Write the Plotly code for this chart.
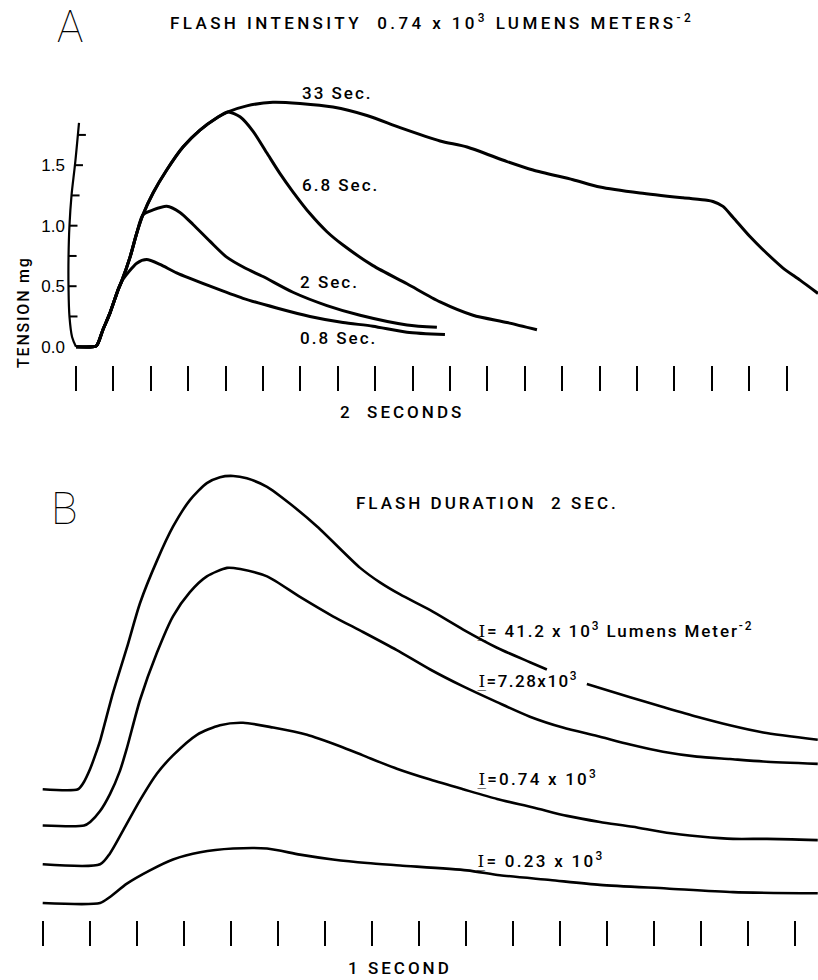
import numpy as np
import plotly.graph_objects as go

W, H = 818, 980

# ---------------- Panel A: flash intensity 0.74 x 10^3 lm m^-2 ----------------
# time in seconds from the start of the record, tension in mg
rise_t  = [0.0, 0.86, 1.11, 1.44, 1.82, 2.25, 2.44, 2.89, 3.25, 3.58,
           4.12, 4.85, 5.72, 6.63, 7.52, 8.13]
rise_mg = [0.0, 0.0, 0.01, 0.14, 0.28, 0.47, 0.54, 0.74, 0.94, 1.09,
           1.27, 1.46, 1.65, 1.79, 1.89, 1.94]

# decays after each flash ends (branch off the common rise)
d08_t  = [3.25, 3.78, 4.49, 5.38, 7.17, 8.93, 10.73, 12.51, 14.28, 15.88, 17.70, 19.73]
d08_mg = [0.69, 0.72, 0.68, 0.61, 0.50, 0.40, 0.32, 0.25, 0.20, 0.17, 0.12, 0.10]

d2_t  = [4.12, 4.85, 5.56, 6.26, 7.17, 8.06, 9.04, 10.00, 11.60, 13.42, 15.19, 17.70, 19.30]
d2_mg = [1.13, 1.16, 1.11, 1.01, 0.87, 0.74, 0.65, 0.58, 0.45, 0.34, 0.26, 0.18, 0.16]

d68_t  = [8.77, 9.47, 10.21, 10.91, 11.60, 12.51, 13.42, 14.28, 15.88, 17.70,
          19.47, 21.23, 23.05, 24.65]
d68_mg = [1.90, 1.78, 1.60, 1.43, 1.28, 1.10, 0.95, 0.84, 0.67, 0.52,
          0.37, 0.26, 0.20, 0.14]

d33_t  = [9.13, 10.53, 11.98, 13.74, 15.56, 17.33, 19.47, 20.91, 23.05, 24.44,
          26.58, 28.02, 30.16, 32.46, 33.74, 34.06, 34.60, 35.13, 36.04, 36.95,
          37.81, 38.72, 39.68]
d33_mg = [1.99, 2.02, 2.01, 1.98, 1.91, 1.81, 1.70, 1.65, 1.53, 1.46,
          1.38, 1.32, 1.27, 1.23, 1.21, 1.20, 1.16, 1.07, 0.91, 0.77,
          0.65, 0.55, 0.44]

durations = ["0.8 Sec.", "2 Sec.", "6.8 Sec.", "33 Sec."]
branch_at = [7, 10, 16, 16]          # number of rise points each curve keeps
decays = [(d08_t, d08_mg), (d2_t, d2_mg), (d68_t, d68_mg), (d33_t, d33_mg)]

# pen-recorder calibration arc (hand drawn, curved)
arc_t  = [0.16, -0.05, -0.24, -0.35, -0.40, -0.40, -0.35, -0.21, 0.0]
arc_mg = [1.85, 1.51, 1.25, 1.00, 0.74, 0.49, 0.25, 0.08, 0.0]
arc_ticks = [0.25, 0.5, 0.75, 1.0, 1.25, 1.5, 1.75]
a_tick_vals = [0, 0.5, 1.0, 1.5]
a_tick_text = ["0.0", "0.5", "1.0", "1.5"]
a_time_ticks = list(range(0, 40, 2))   # one mark every 2 s

# ---------------- Panel B: flash duration 2 s, four intensities ----------------
i41_t  = [0.0, 0.75, 0.86, 1.01, 1.16, 1.22, 1.49, 1.79, 2.07, 2.43, 2.77, 3.13,
          3.49, 3.77, 4.05, 4.34, 4.77, 5.26, 5.84, 6.75, 7.17, 7.60, 8.24, 8.94,
          9.66, 10.36, 10.72, None, 11.57, 12.49, 13.19, 13.91, 14.61, 15.32, 16.48]
i41_mg = [0.0, 0.0, 0.05, 0.17, 0.33, 0.40, 0.79, 1.17, 1.54, 1.89, 2.17, 2.39,
          2.53, 2.58, 2.59, 2.57, 2.50, 2.36, 2.17, 1.83, 1.71, 1.61, 1.48, 1.32,
          1.17, 1.05, 0.99, None, 0.87, 0.76, 0.68, 0.60, 0.53, 0.47, 0.41]

i728_t  = [0.0, 0.88, 1.01, 1.22, 1.43, 1.64, 1.79, 2.07, 2.43, 2.77, 3.13, 3.49,
           3.92, 4.20, 4.77, 5.47, 6.17, 6.81, 7.53, 8.24, 8.94, 9.66, 10.36,
           11.06, 11.79, 12.49, 13.19, 13.91, 14.61, 15.32, 16.48]
i728_mg = [0.0, 0.0, 0.03, 0.12, 0.26, 0.45, 0.64, 1.04, 1.43, 1.73, 1.93, 2.06,
           2.13, 2.12, 2.06, 1.89, 1.73, 1.60, 1.45, 1.29, 1.15, 1.02, 0.90,
           0.81, 0.74, 0.67, 0.61, 0.57, 0.55, 0.53, 0.51]

i074_t  = [0.0, 1.22, 1.43, 1.71, 2.07, 2.43, 2.77, 3.28, 3.77, 4.26, 4.90, 5.62,
           6.32, 6.81, 7.53, 8.24, 8.94, 9.66, 10.43, 11.15, 11.85, 12.55, 13.27,
           13.98, 14.68, 15.40, 16.48]
i074_mg = [0.0, 0.0, 0.09, 0.28, 0.53, 0.75, 0.90, 1.07, 1.15, 1.17, 1.13, 1.07,
           0.975, 0.90, 0.79, 0.70, 0.62, 0.54, 0.47, 0.40, 0.35, 0.31, 0.26,
           0.23, 0.21, 0.21, 0.20]

i023_t  = [0.0, 1.22, 1.43, 1.79, 2.28, 2.77, 3.35, 4.05, 4.77, 5.47, 6.17, 6.90,
           7.60, 9.02, 9.72, 10.79, 11.85, 13.27, 14.68, 16.48]
i023_mg = [0.0, 0.0, 0.05, 0.16, 0.27, 0.36, 0.42, 0.45, 0.45, 0.40, 0.36, 0.33,
           0.31, 0.27, 0.23, 0.19, 0.15, 0.12, 0.09, 0.08]

I_SYM = '<span style="font-family:DejaVu Serif">I\u0332</span>'
intensities = [I_SYM + "= 41.2 x 10<sup>3</sup> Lumens Meter<sup>-2</sup>",
               I_SYM + "=7.28x10<sup>3</sup>",
               I_SYM + "=0.74 x 10<sup>3</sup>",
               I_SYM + "= 0.23 x 10<sup>3</sup>"]
b_curves = [(i41_t, i41_mg), (i728_t, i728_mg), (i074_t, i074_mg), (i023_t, i023_mg)]
b_offsets = [0.94, 0.64, 0.32, 0.0]     # records drawn stacked above each other
b_time_ticks = list(range(0, 17))       # one mark every second

FONT = "Roboto, Liberation Sans, sans-serif"
TICKFONT = "Liberation Sans, Arial, sans-serif"
INK = "black"

fig = go.Figure()

# panel A traces
for (dt, dm), n in zip(decays, branch_at):
    fig.add_trace(go.Scatter(
        x=rise_t[:n] + dt, y=rise_mg[:n] + dm, mode="lines",
        line=dict(color=INK, width=3, shape="spline", smoothing=0.7),
        xaxis="x", yaxis="y", hoverinfo="skip"))

fig.add_trace(go.Scatter(x=arc_t, y=arc_mg, mode="lines",
                         line=dict(color=INK, width=2.2, shape="spline"),
                         xaxis="x", yaxis="y", hoverinfo="skip"))
arc_order = np.argsort(arc_mg)
tx, ty = [], []
for lv in arc_ticks:
    x0 = float(np.interp(lv, np.array(arc_mg)[arc_order], np.array(arc_t)[arc_order]))
    tx += [x0, x0 + 0.43, None]
    ty += [lv, lv, None]
fig.add_trace(go.Scatter(x=tx, y=ty, mode="lines", line=dict(color=INK, width=2),
                         xaxis="x", yaxis="y", hoverinfo="skip"))

# panel B traces
for (t, m), off in zip(b_curves, b_offsets):
    yy = np.array(m, dtype=float) + off
    xx = np.array(t, dtype=float)
    fig.add_trace(go.Scatter(
        x=xx, y=yy, mode="lines", connectgaps=False,
        line=dict(color=INK, width=2.6, shape="spline", smoothing=0.7),
        xaxis="x2", yaxis="y2", hoverinfo="skip"))


def P(x, y):
    """pixel position in the 818x980 picture -> paper coords"""
    return x / W, 1 - y / H


def label(text, x, y, size=17, xanchor="left", spacing=0, family=FONT,
          weight=500, **kw):
    px_, py_ = P(x, y)
    if spacing:
        text = f'<span style="letter-spacing:{spacing}px">{text}</span>'
    fig.add_annotation(x=px_, y=py_, xref="paper", yref="paper", text=text,
                       showarrow=False, xanchor=xanchor, yanchor="middle",
                       font=dict(family=family, size=size, color=INK, weight=weight),
                       **kw)


label("A", 70, 27, size=44, xanchor="center", family="Roboto, DejaVu Sans", weight=100)
label("B", 64, 509, size=44, xanchor="center", family="Roboto, DejaVu Sans", weight=100)
label("FLASH INTENSITY  0.74 x 10<sup>3</sup> LUMENS METERS<sup>-2</sup>",
      432, 22, xanchor="center", spacing=3.4)
label("FLASH DURATION  2 SEC.", 487, 503, xanchor="center", spacing=3)
label("2  SECONDS", 402, 412, xanchor="center", spacing=3)
label("1 SECOND", 400, 968, xanchor="center", spacing=3)
label("TENSION mg", 23, 312, size=16, xanchor="center", spacing=1.8, textangle=-90)

for txt, (x, y) in zip(durations, [(298, 338), (298, 282), (300, 185), (300, 93)]):
    label(txt, x, y, spacing=2)
for txt, (x, y), sp in zip(intensities, [(475, 630), (475, 680), (475, 778), (474, 860)],
                           [1.9, 1.5, 2.2, 2.3]):
    label(txt, x, y, spacing=sp)

axis_off = dict(showgrid=False, zeroline=False, showline=False)
fig.update_layout(
    width=W, height=H,
    margin=dict(l=0, r=0, t=0, b=0),
    paper_bgcolor="white", plot_bgcolor="white",
    showlegend=False,
    font=dict(family=FONT, color=INK),
    xaxis=dict(domain=[66 / W, 1], range=[-0.535, 39.68], anchor="y",
               tickvals=a_time_ticks, ticks="outside", ticklen=25, tickwidth=2,
               tickcolor=INK, showticklabels=False, **axis_off),
    yaxis=dict(domain=[1 - 365 / H, 1 - 60 / H], range=[-0.151, 2.369], anchor="x",
               tickvals=a_tick_vals, ticktext=a_tick_text, ticks="",
               tickfont=dict(family=TICKFONT, size=17, color=INK), **axis_off),
    xaxis2=dict(domain=[0, 1], range=[-0.908, 16.485], anchor="y2",
                tickvals=b_time_ticks, ticks="outside", ticklen=25, tickwidth=2,
                tickcolor=INK, showticklabels=False, **axis_off),
    yaxis2=dict(domain=[1 - 920 / H, 1 - 470 / H], range=[-0.1405, 3.579], anchor="x2",
                visible=False, **axis_off),
)

fig.write_html("out.html", config={"displayModeBar": False},
               post_script="document.body.style.margin = '0px';")
